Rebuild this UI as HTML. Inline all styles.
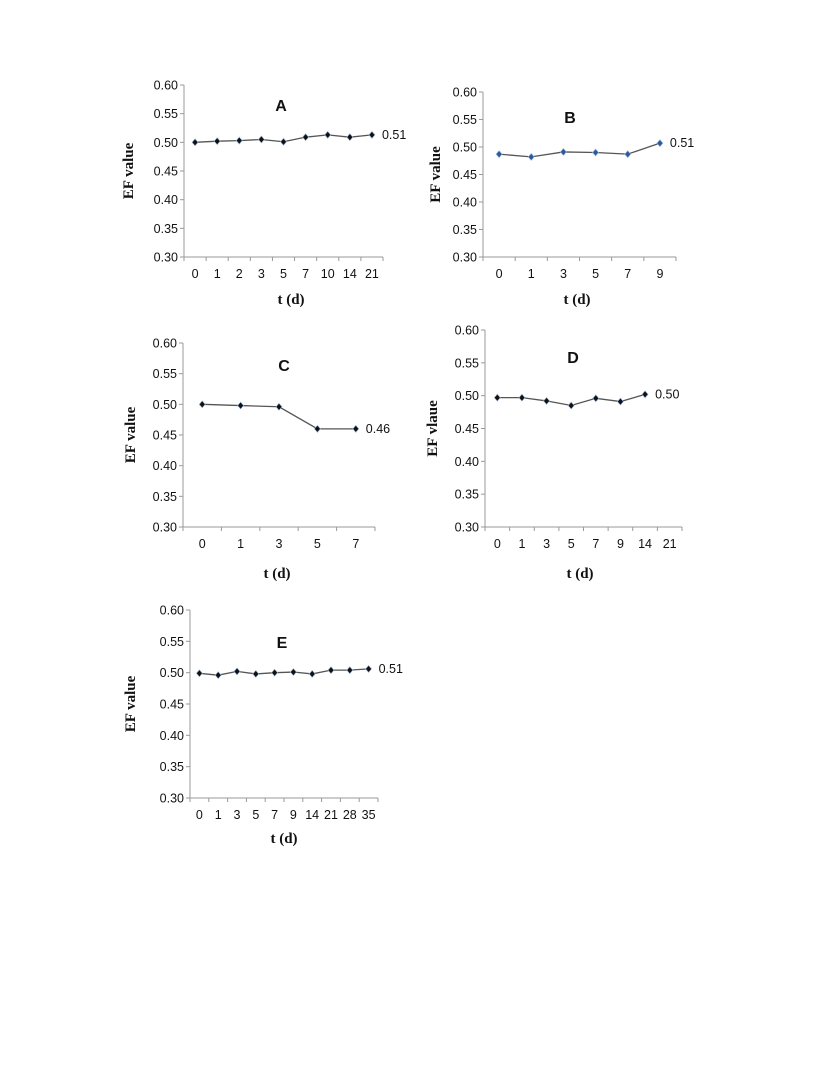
<!DOCTYPE html>
<html><head><meta charset="utf-8"><style>
body{margin:0;background:#fff;width:816px;height:1079px;overflow:hidden}
svg{display:block}
.tk{font-family:"Liberation Sans",sans-serif;font-size:12.5px;fill:#111}
.ttl{font-family:"Liberation Sans",sans-serif;font-size:16px;font-weight:bold;fill:#111}
.ax{font-family:"Liberation Serif",serif;font-size:15px;font-weight:bold;fill:#111}
</style></head><body>
<svg id="fig" width="816" height="1079" viewBox="0 0 816 1079" xmlns="http://www.w3.org/2000/svg"></svg>
<script>
const catsA=["0","1","2","3","5","7","10","14","21"];
const valsA=[0.500,0.502,0.503,0.505,0.501,0.509,0.513,0.509,0.513];
const catsB=["0","1","3","5","7","9"];
const valsB=[0.487,0.482,0.491,0.490,0.487,0.507];
const catsC=["0","1","3","5","7"];
const valsC=[0.500,0.498,0.496,0.460,0.460];
const catsD=["0","1","3","5","7","9","14","21"];
const valsD=[0.497,0.497,0.492,0.485,0.496,0.491,0.502];
const catsE=["0","1","3","5","7","9","14","21","28","35"];
const valsE=[0.499,0.496,0.502,0.498,0.500,0.501,0.498,0.504,0.504,0.506];
const yTicks=["0.30","0.35","0.40","0.45","0.50","0.55","0.60"];
const endLabels=["0.51","0.51","0.46","0.50","0.51"];
const panels=[
 {id:"a",title:"A",cats:catsA,vals:valsA,x0:184,x1:383,y0:85,y1:257,ytitle:"EF value",yt:133,mk:"#111",tx:281,ty:111,xt:291,xty:304},
 {id:"b",title:"B",cats:catsB,vals:valsB,x0:483,x1:676,y0:92,y1:257,ytitle:"EF value",yt:440,mk:"#2a5a9a",tx:570,ty:123,xt:577,xty:304},
 {id:"c",title:"C",cats:catsC,vals:valsC,x0:183,x1:375,y0:343,y1:527,ytitle:"EF value",yt:135,mk:"#111",tx:284,ty:371,xt:277,xty:578},
 {id:"d",title:"D",cats:catsD,vals:valsD,x0:485,x1:682,y0:330,y1:527,ytitle:"EF vlaue",yt:437,mk:"#111",tx:573,ty:363,xt:580,xty:578},
 {id:"e",title:"E",cats:catsE,vals:valsE,x0:190,x1:378,y0:610,y1:798,ytitle:"EF value",yt:135,mk:"#111",tx:282,ty:648,xt:284,xty:843}
];
const NS="http://www.w3.org/2000/svg";
const svg=document.getElementById("fig");
function mk(tag,attrs,parent){const e=document.createElementNS(NS,tag);for(const k in attrs)e.setAttribute(k,attrs[k]);parent.appendChild(e);return e;}
panels.forEach((p,pi)=>{
 const g=mk("g",{},svg);
 
 
 const n=p.cats.length,cw=(p.x1-p.x0)/n;
 const xS=i=>p.x0+cw*(i+0.5);
 const yS=v=>p.y1-(v-0.30)/0.30*(p.y1-p.y0);
 const ya=mk("line",{x1:p.x0,y1:p.y0,x2:p.x0,y2:p.y1,stroke:"#999","stroke-width":1},g);
 
 
 const xa=mk("line",{x1:p.x0,y1:p.y1,x2:p.x1,y2:p.y1,stroke:"#999","stroke-width":1},g);
 
 
 yTicks.forEach(t=>{const y=yS(parseFloat(t));
  mk("line",{x1:p.x0-4,y1:y,x2:p.x0,y2:y,stroke:"#999"},g);
  const tx=mk("text",{x:p.x0-6,y:y+4.5,"text-anchor":"end",class:"tk"},g);tx.textContent=t;
  
  });
 for(let i=0;i<=n;i++){const x=p.x0+cw*i;mk("line",{x1:x,y1:p.y1,x2:x,y2:p.y1+4,stroke:"#999"},g);}
 p.cats.forEach((c,i)=>{const tx=mk("text",{x:xS(i),y:p.y1+21,"text-anchor":"middle",class:"tk"},g);tx.textContent=c;
  
  });
 const pts=p.vals.map((v,i)=>xS(i)+","+yS(v)).join(" ");
 const ln=mk("polyline",{points:pts,fill:"none",stroke:"#555","stroke-width":1.3},g);
 
 
 p.vals.forEach((v,i)=>{const x=xS(i),y=yS(v);
  const m=mk("polygon",{points:`${x},${y-3.5} ${x+3},${y} ${x},${y+3.5} ${x-3},${y}`,fill:p.mk,stroke:"#9ab8dd","stroke-width":0.6},g);
  
  });
 const li=p.vals.length-1;
 const el=mk("text",{x:xS(li)+10,y:yS(p.vals[li])+4,class:"tk"},g);el.textContent=endLabels[pi];
 
 
 const tt=mk("text",{x:p.tx,y:p.ty,"text-anchor":"middle",class:"ttl"},g);tt.textContent=p.title;
 
 
 const xt=mk("text",{x:p.xt,y:p.xty,"text-anchor":"middle",class:"ax"},g);xt.textContent="t (d)";
 
 
 const cy=(p.y0+p.y1)/2;
 const yt=mk("text",{x:p.yt,y:cy,"text-anchor":"middle",class:"ax",transform:`rotate(-90 ${p.yt} ${cy})`},g);yt.textContent=p.ytitle;
 
 
});
</script>
</body></html>
